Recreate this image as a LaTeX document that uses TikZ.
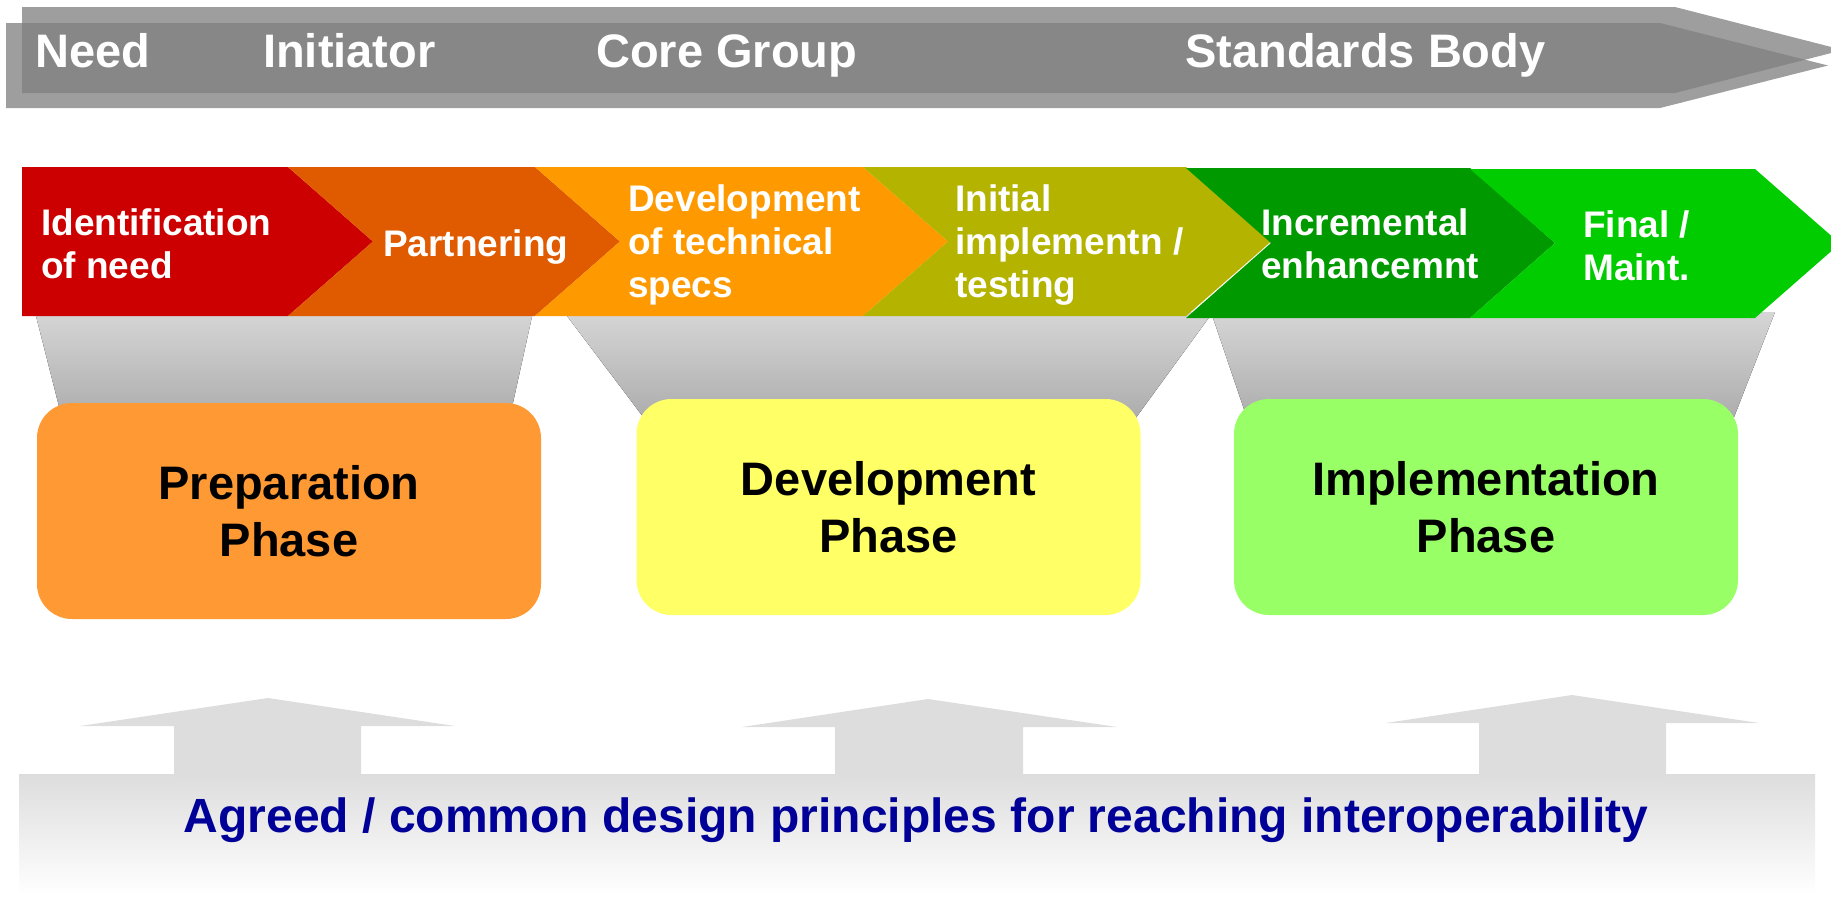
\documentclass[tikz,border=0pt]{standalone}
\usepackage{fontspec}
\setmainfont{Liberation Sans}
\usepackage{tikz}
\definecolor{stepA}{HTML}{CC0000}
\definecolor{stepB}{HTML}{E05A00}
\definecolor{stepC}{HTML}{FF9900}
\definecolor{stepD}{HTML}{B3B300}
\definecolor{stepE}{HTML}{009900}
\definecolor{stepF}{HTML}{00CC00}
\definecolor{prepcol}{HTML}{FF9933}
\definecolor{devcol}{HTML}{FFFF66}
\definecolor{implcol}{HTML}{99FF66}
\definecolor{funneltop}{HTML}{D6D6D6}
\definecolor{funnelbot}{HTML}{A8A8A8}
\definecolor{basegrey}{HTML}{DDDDDD}
\definecolor{principle}{HTML}{000099}
\tikzstyle{banner} = [fill=gray, fill opacity=0.76]
\tikzstyle{who} = [text=white, font=\fontsize{47}{56}\selectfont\bfseries, anchor=base west, inner sep=0]
\tikzstyle{steptext} = [text=white, font=\fontsize{37}{43}\selectfont\bfseries, align=left, anchor=north west, inner sep=0]
\tikzstyle{funnel} = [top color=funneltop, bottom color=funnelbot]
\tikzstyle{phasebox} = [rounded corners=35pt, minimum width=504pt, minimum height=216pt, inner sep=0, align=center, font=\fontsize{47}{57}\selectfont\bfseries]
\tikzstyle{uparrow} = [fill=basegrey]

\begin{document}
\begin{tikzpicture}[x=1pt, y=-1pt]
  \useasboundingbox (0,0) rectangle (1831,897);
  \fill [banner] (22,7) -- (1675,7) -- (1843,50) -- (1675,93) -- (22,93) -- cycle;
  \fill [banner] (6,23) -- (1660,23) -- (1828,65.5) -- (1660,108) -- (6,108) -- cycle;
  \fill [funnel] (35,312) -- (533,312) -- (507,430) -- (65,430) -- cycle;
  \fill [funnel] (564,312) -- (1213,312) -- (1127,430) -- (653,430) -- cycle;
  \fill [funnel] (1211,312) -- (1775,312) -- (1729,430) -- (1251,430) -- cycle;
  \fill [stepA] (22,167) -- (288,167) -- (373,241.5) -- (288,316) -- (22,316) -- cycle;
  \fill [stepB] (288,167) -- (535,167) -- (620,241.5) -- (535,316) -- (288,316) -- (373,241.5) -- cycle;
  \fill [stepC] (535,167) -- (863,167) -- (948,241.5) -- (863,316) -- (535,316) -- (620,241.5) -- cycle;
  \fill [stepD] (863,167) -- (1186,167) -- (1271,241.5) -- (1186,316) -- (863,316) -- (948,241.5) -- cycle;
  \fill [stepE] (1186,168) -- (1470,168) -- (1555,243) -- (1470,318) -- (1186,318) -- (1271,243) -- cycle;
  \fill [stepF] (1470,169) -- (1755,169) -- (1840,243.5) -- (1755,318) -- (1470,318) -- (1555,243) -- cycle;
  \node (prep) at (289,511) [phasebox, fill=prepcol] {Preparation\\Phase};
  \node (dev) at (888.5,507) [phasebox, fill=devcol] {Development\\Phase};
  \node (impl) at (1486,507) [phasebox, fill=implcol] {Implementation\\Phase};
  \shade [top color=basegrey, bottom color=white] (19,774) rectangle (1815,895);
  \fill [uparrow] (174,776) -- (174,726) -- (80,726) -- (268,698) -- (455,726) -- (361,726) -- (361,776) -- cycle;
  \fill [uparrow] (835,776) -- (835,727) -- (742,727) -- (928,699) -- (1117,727) -- (1023,727) -- (1023,776) -- cycle;
  \fill [uparrow] (1479,776) -- (1479,723) -- (1386,723) -- (1572,695) -- (1759,723) -- (1666,723) -- (1666,776) -- cycle;
  \node (need) at (35,67) [who] {Need};
  \node (init) at (263,67) [who] {Initiator};
  \node (core) at (596,67) [who] {Core Group};
  \node (body) at (1185,67) [who] {Standards Body};
  \node (ident) at (41,208) [steptext] {Identification\\of need};
  \node (partner) at (383,229) [steptext] {Partnering};
  \node (specs) at (628,184) [steptext] {Development\\of technical\\specs};
  \node (testing) at (955,184) [steptext] {Initial\\implementn /\\testing};
  \node (enhance) at (1261,208) [steptext] {Incremental\\enhancemnt};
  \node (maint) at (1583,210) [steptext] {Final /\\Maint.};
  \node (principles) at (916,832) [anchor=base, inner sep=0, text=principle, font=\fontsize{48}{58}\selectfont\bfseries] {Agreed / common design principles for reaching interoperability};
\end{tikzpicture}
\end{document}
